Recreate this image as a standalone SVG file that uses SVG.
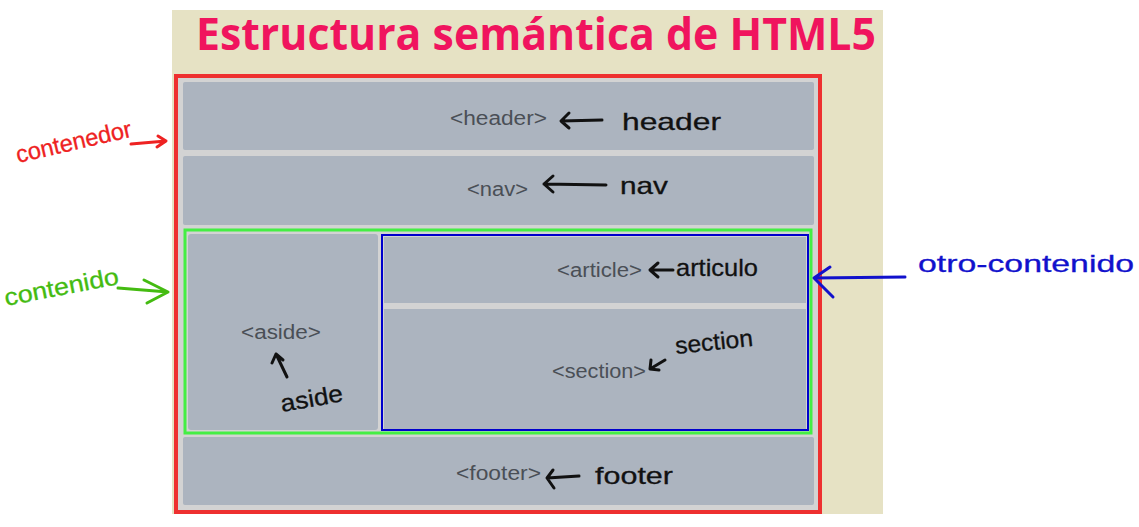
<svg xmlns="http://www.w3.org/2000/svg" width="1139" height="527" viewBox="0 0 1139 527">
<style>
.blk{fill:#acb4bf}
.tag{font-family:"Liberation Sans",Arial,sans-serif;font-size:20px;fill:#4a4f56}
.hw{font-family:"Liberation Sans",Arial,sans-serif;font-size:24px;stroke-width:0.3}
.ink{fill:none;stroke-width:3;stroke-linecap:round;stroke-linejoin:round}
</style>
<rect x="0" y="0" width="1139" height="527" fill="#ffffff"/>
<rect x="172" y="10" width="711" height="504" fill="#e6e2c4"/>
<text x="196" y="50" font-family="'Open Sans',sans-serif" font-weight="bold" font-size="45" fill="#f0145e" textLength="680" lengthAdjust="spacingAndGlyphs">Estructura semántica de HTML5</text>
<rect x="176" y="76" width="644" height="436" fill="#d3d3d3" stroke="#ee3030" stroke-width="4"/>
<g id="header"><rect class="blk" x="183" y="82" width="631" height="68" rx="2"/><text class="tag" x="450" y="125" textLength="97" lengthAdjust="spacingAndGlyphs">&lt;header&gt;</text></g>
<g id="nav"><rect class="blk" x="183" y="156" width="631" height="69" rx="2"/><text class="tag" x="467" y="196" textLength="61" lengthAdjust="spacingAndGlyphs">&lt;nav&gt;</text></g>
<g id="contenido"><rect x="185" y="230" width="626" height="203" fill="#d3d3d3" stroke="#44ee44" stroke-width="3"/></g>
<g id="aside"><rect class="blk" x="188" y="234" width="190" height="196" rx="3"/><text class="tag" x="241" y="339" textLength="80" lengthAdjust="spacingAndGlyphs">&lt;aside&gt;</text></g>
<g id="otro-contenido"><rect x="382" y="235" width="426" height="195" fill="#d3d3d3" stroke="#0000cc" stroke-width="2"/></g>
<g id="article"><rect class="blk" x="384" y="237" width="422" height="66"/><text class="tag" x="557" y="277" textLength="85" lengthAdjust="spacingAndGlyphs">&lt;article&gt;</text></g>
<g id="section"><rect class="blk" x="384" y="309" width="422" height="120"/><text class="tag" x="552" y="378" textLength="94" lengthAdjust="spacingAndGlyphs">&lt;section&gt;</text></g>
<g id="footer"><rect class="blk" x="183" y="437" width="631" height="68" rx="2"/><text class="tag" x="456" y="480" textLength="85" lengthAdjust="spacingAndGlyphs">&lt;footer&gt;</text></g>
<g id="connectors">
<path class="ink" stroke="#111" d="M602 120 L561 121 M569 113 L561 121 L569 128"/>
<path class="ink" stroke="#111" d="M606 185 L544 184 M553 176 L544 184 L553 192"/>
<path class="ink" stroke="#111" d="M673 270 L650 270 M658 263 L650 270 L658 277"/>
<path class="ink" stroke="#111" d="M665 360 L650 369 M651 360 L650 369 L659 370"/>
<path class="ink" stroke="#111" d="M287 377 L276 354 M272 363 L276 354 L283 360"/>
<path class="ink" stroke="#111" d="M579 476 L547 478 M553 470 L547 478 L554 488"/>
<path class="ink" stroke="#ee2222" d="M131 144 L166 141 M158 136 L166 141 L157 147"/>
<path class="ink" stroke="#44bb11" d="M118 288 L168 292 M144 280 L168 292 L147 303"/>
<path class="ink" stroke="#1111cc" d="M905 277 L814 278 M830 267 L814 278 L833 297"/>
</g>
<g id="annotations">
<text class="hw" x="622" y="130" fill="#111" stroke="#111" font-size="31" textLength="99" lengthAdjust="spacingAndGlyphs">header</text>
<text class="hw" x="620" y="194" fill="#111" stroke="#111" textLength="48" lengthAdjust="spacingAndGlyphs">nav</text>
<text class="hw" x="676" y="276" fill="#111" stroke="#111" font-size="22" textLength="82" lengthAdjust="spacingAndGlyphs">articulo</text>
<text class="hw" x="676" y="354" fill="#111" stroke="#111" font-size="22" textLength="78" lengthAdjust="spacingAndGlyphs" transform="rotate(-6 676 354)">section</text>
<text class="hw" x="282" y="412" fill="#111" stroke="#111" font-size="24" textLength="63" lengthAdjust="spacingAndGlyphs" transform="rotate(-10 282 412)">aside</text>
<text class="hw" x="595" y="484" fill="#111" stroke="#111" font-size="26" textLength="78" lengthAdjust="spacingAndGlyphs">footer</text>
<text class="hw" x="18" y="163" fill="#ee2222" stroke="#ee2222" font-size="22" textLength="118" lengthAdjust="spacingAndGlyphs" transform="rotate(-13 18 163)">contenedor</text>
<text class="hw" x="6" y="306" fill="#44bb11" stroke="#44bb11" font-size="24" textLength="116" lengthAdjust="spacingAndGlyphs" transform="rotate(-11 6 306)">contenido</text>
<text class="hw" x="918" y="272" fill="#1111cc" stroke="#1111cc" font-size="28" textLength="216" lengthAdjust="spacingAndGlyphs">otro-contenido</text>
</g>
</svg>
